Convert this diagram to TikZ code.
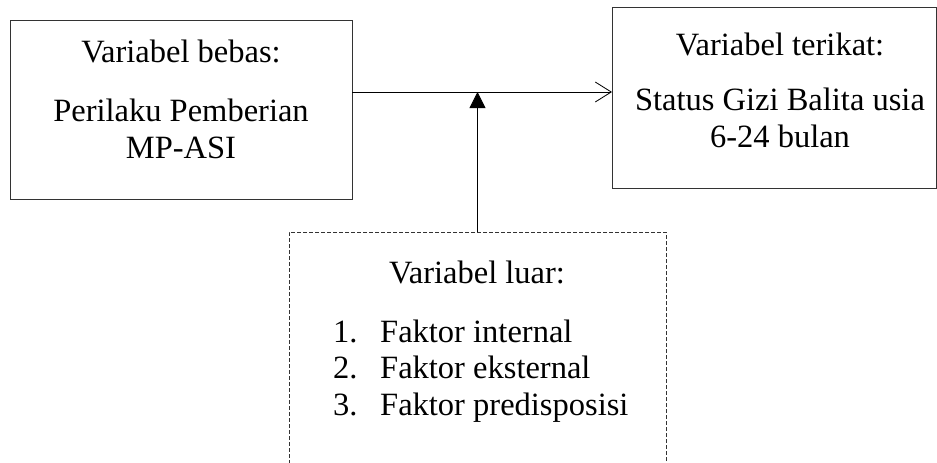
\documentclass[tikz,border=0pt]{standalone}
\usepackage{fontspec}
\setmainfont{Liberation Serif}
\usetikzlibrary{arrows.meta}
\begin{document}
\begin{tikzpicture}[x=1pt,y=-1pt,
  box/.style={draw=black!80, line width=0.8pt, inner sep=0pt, outer sep=0pt},
  dbox/.style={draw=black!80, line width=0.7pt, dash pattern=on 4pt off 2pt, inner sep=0pt, outer sep=0pt},
  lbl/.style={anchor=base, inner sep=0pt, font=\fontsize{32.5}{36.5}\selectfont},
  item/.style={anchor=base west, inner sep=0pt, font=\fontsize{32.5}{36.5}\selectfont},
  conn/.style={draw=black, line width=0.8pt},
]
\useasboundingbox (0,0) rectangle (937,463);
% solid boxes
\node[box, minimum width=342pt, minimum height=179pt] (bebas) at (181,109.5) {};
\node[box, minimum width=324pt, minimum height=181pt] (terikat) at (774,97.5) {};
% dashed box, open at the bottom edge of the picture
\begin{scope}
\clip (0,0) rectangle (937,463);
\node[dbox, minimum width=377pt, minimum height=260pt, anchor=north] (luar) at (477.5,232) {};
\end{scope}
% texts
\node[lbl] (t1) at (181,62) {Variabel bebas:};
\node[lbl] (t2) at (181,121) {Perilaku Pemberian};
\node[lbl] (t3) at (181,158) {MP-ASI};
\node[lbl] (t4) at (780,55) {Variabel terikat:};
\node[lbl] (t5) at (780,110) {Status Gizi Balita usia};
\node[lbl] (t6) at (780,147) {6-24 bulan};
\node[lbl] (t7) at (477,283) {Variabel luar:};
\node[item] (n1) at (333,342) {1.};
\node[item] (i1) at (380,342) {Faktor internal};
\node[item] (n2) at (333,378.5) {2.};
\node[item] (i2) at (380,378.5) {Faktor eksternal};
\node[item] (n3) at (333,415) {3.};
\node[item] (i3) at (380,415) {Faktor predisposisi};
% connectors
\coordinate (join) at (477.5,92);
\draw[conn, -{Straight Barb[length=16pt,width=20pt,line width=0.8pt]}] (bebas.east |- join) -- (terikat.west |- join);
\draw[conn, -{Triangle[length=16pt,width=16pt]}] (luar.north) -- (join);
\end{tikzpicture}
\end{document}
